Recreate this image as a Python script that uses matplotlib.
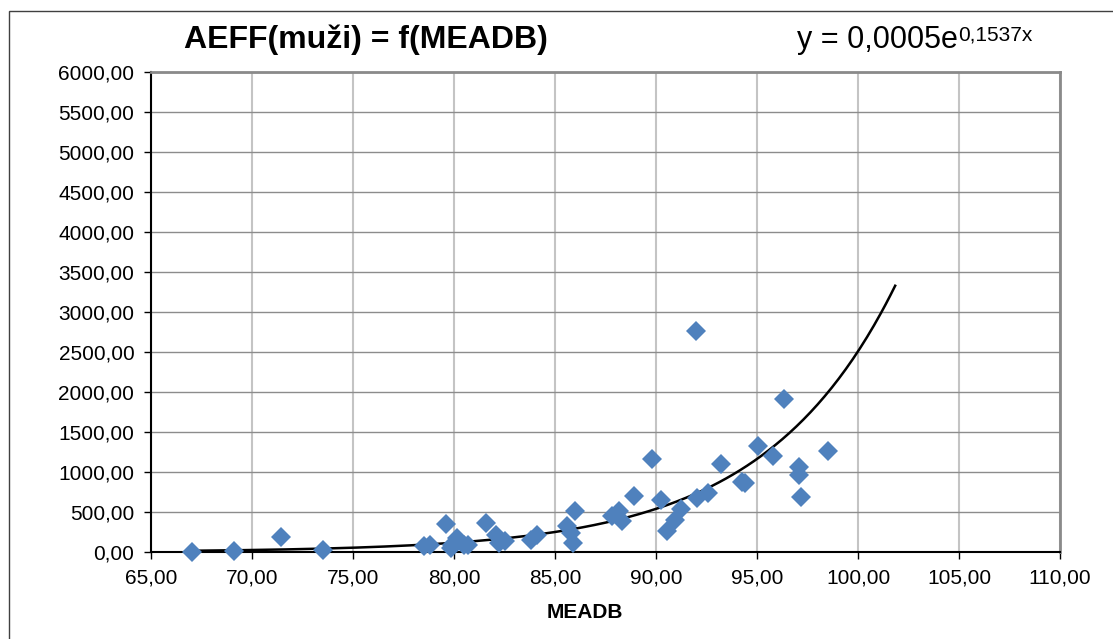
import numpy as np
import matplotlib
matplotlib.use("Agg")
import matplotlib.pyplot as plt
from matplotlib.patches import Rectangle
from matplotlib.ticker import FuncFormatter, MultipleLocator

# MEADB vs AEFF (men)
meadb = [67.03, 69.1, 71.43, 73.5, 78.52, 78.8, 79.6, 79.92, 79.84, 80.13,
         80.5, 80.7, 81.6, 82.06, 82.23, 82.5, 83.8, 84.1, 85.6, 85.8,
         85.9, 85.99, 87.8, 88.15, 88.3, 88.93, 89.8, 90.25, 90.55, 90.96,
         91.26, 92.0, 92.03, 92.57, 93.24, 94.26, 94.4, 95.03, 95.79, 96.35,
         97.06, 97.06, 97.2, 98.53]
aeff = [5, 10, 190, 20, 75, 87, 350, 87, 50, 171,
        87, 87, 366, 212, 117, 142, 150, 212, 325, 233,
        108, 514, 446, 515, 392, 696, 1162, 650, 265, 400,
        537, 2762, 679, 733, 1100, 879, 858, 1329, 1200, 1912,
        1067, 962, 692, 1267]

# Excel exponential trendline, y = a*e^(b*x); a shown rounded as 0,0005
trend_a, trend_b = 0.00053, 0.1537
trend_x0, trend_x1 = 67.03, 101.84

FONT = "Liberation Sans"
plt.rcParams["font.family"] = [FONT, "DejaVu Sans"]


def comma(v, _pos):
    return f"{v:.2f}".replace(".", ",")


def main():
    fig = plt.figure(figsize=(11.13, 6.39), dpi=100)
    W, H = 1113, 639
    ax = fig.add_axes([151 / W, 1 - 552 / H, (1060 - 151) / W, (552 - 72) / H])

    # outer chart-area border (cut off at right/bottom in the original)
    fig.patches.append(Rectangle((9 / W, -0.2), 1.2, 1.2 - 11 / H,
                                 transform=fig.transFigure, fill=False,
                                 ec="#404040", lw=1.0))

    ax.set_xlim(65, 110)
    ax.set_ylim(0, 6000)
    ax.xaxis.set_major_locator(MultipleLocator(5))
    ax.yaxis.set_major_locator(MultipleLocator(500))
    ax.xaxis.set_major_formatter(FuncFormatter(comma))
    ax.yaxis.set_major_formatter(FuncFormatter(comma))

    ax.grid(axis="y", color="#8c8c8c", lw=1.0)
    ax.grid(axis="x", color="#c4c4c4", lw=1.5)
    ax.set_axisbelow(True)

    for s in ("top", "right"):
        ax.spines[s].set_color("#8a8a8a")
        ax.spines[s].set_linewidth(2.0)
    for s in ("left", "bottom"):
        ax.spines[s].set_color("black")
        ax.spines[s].set_linewidth(1.5)
    ax.tick_params(length=5, width=1, direction="out", labelsize=15, pad=7)

    xs = np.linspace(trend_x0, trend_x1, 300)
    ax.plot(xs, trend_a * np.exp(trend_b * xs), color="black", lw=1.8, zorder=3)
    ax.plot(meadb, aeff, "D", color="#4F81BD", ms=10.5, mew=0, zorder=4,
            clip_on=False)

    fig.text(366 / W, 1 - 40 / H, "AEFF(muži) = f(MEADB)", ha="center",
             va="center", fontsize=23, fontweight="bold")
    t1 = fig.text(797 / W, 1 - 40 / H, "y = 0,0005e", ha="left", va="center",
                  fontsize=22)
    ax.annotate("0,1537x", xy=(1, 0.98), xycoords=t1, ha="left", va="top",
                fontsize=15, annotation_clip=False)
    fig.text(585 / W, 1 - 613 / H, "MEADB", ha="center", va="center",
             fontsize=15, fontweight="bold")

    fig.savefig("out.png", dpi=100)


if __name__ == "__main__":
    main()
